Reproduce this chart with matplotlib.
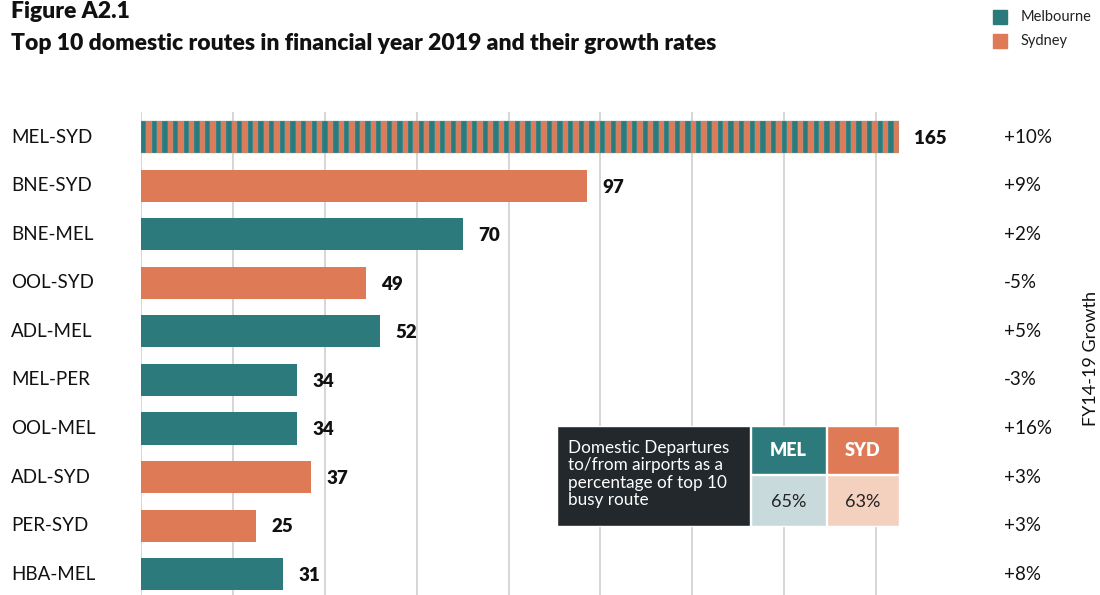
import numpy as np
import matplotlib.pyplot as plt
from matplotlib.patches import Rectangle

plt.rcParams['font.family'] = ['Lato', 'DejaVu Sans']

# Route data
routes = ["MEL-SYD", "BNE-SYD", "BNE-MEL", "OOL-SYD", "ADL-MEL",
          "MEL-PER", "OOL-MEL", "ADL-SYD", "PER-SYD", "HBA-MEL"]
passengers = [165, 97, 70, 49, 52, 34, 34, 37, 25, 31]
hub = ["both", "Sydney", "Melbourne", "Sydney", "Melbourne",
       "Melbourne", "Melbourne", "Sydney", "Sydney", "Melbourne"]
growth = ["+10%", "+9%", "+2%", "-5%", "+5%", "-3%", "+16%", "+3%", "+3%", "+8%"]

share_labels = ["MEL", "SYD"]
share_values = ["65%", "63%"]

TEAL = "#2d7a7d"
ORANGE = "#de7a55"
DARK = "#22282b"
LIGHT_TEAL = "#c9dadc"
LIGHT_ORANGE = "#f4d0bf"
GRID = "#d6d6d6"
INK = "#111111"

W, H = 1100, 595
fig = plt.figure(figsize=(W / 100, H / 100), dpi=100)

def fx(px):
    return px / W

def fy(py):
    return 1 - py / H

ax_left, ax_right, ax_top, ax_bottom = 141, 899, 112, 595
ax = fig.add_axes([fx(ax_left), fy(ax_bottom), fx(ax_right - ax_left), (ax_bottom - ax_top) / H])

y = np.arange(len(routes))
bar_h = 0.66
for i, (val, h) in enumerate(zip(passengers, hub)):
    if h == "both":
        n = 142
        edges = np.linspace(0, val, n + 1)
        widths = np.diff(edges)
        cols = [TEAL if k % 2 == 0 else ORANGE for k in range(n)]
        ax.barh(np.full(n, i), widths, left=edges[:-1], height=bar_h,
                color=cols, edgecolor="#7fa9a8", linewidth=0.25, zorder=3)
    else:
        ax.barh(i, val, height=bar_h, color=TEAL if h == "Melbourne" else ORANGE,
                edgecolor="none", zorder=3)
    ax.annotate(str(val), xy=(val, i), xytext=(11, -1), textcoords="offset points",
                ha="left", va="center", fontsize=13.5, fontweight="heavy",
                color=INK, zorder=4)

ax.set_xlim(0, 165)
ax.set_ylim(9.43, -0.52)
ax.set_xticks(np.arange(0, 161, 20))
ax.xaxis.grid(True, color=GRID, linewidth=1.4, zorder=0)
ax.tick_params(axis="x", length=0, labelbottom=False)
ax.tick_params(axis="y", length=0)
ax.set_yticks(y)
ax.set_yticklabels([])
for s in ax.spines.values():
    s.set_visible(False)
ax.set_facecolor("none")

# Route labels and growth rates
for i, (r, g) in enumerate(zip(routes, growth)):
    ax.annotate(r, xy=(fx(11), i), xycoords=("figure fraction", "data"),
                ha="left", va="center", fontsize=13.5, color=INK)
    ax.annotate(g, xy=(fx(1004), i), xycoords=("figure fraction", "data"),
                ha="left", va="center", fontsize=13.5, color=INK)

fig.text(fx(1091), fy(358), "FY14-19 Growth", rotation=90, ha="center", va="center",
         fontsize=13, color=INK)

# Titles
fig.text(fx(11), fy(12), "Figure A2.1", ha="left", va="center",
         fontsize=16.5, fontweight="heavy", color=INK)
fig.text(fx(11), fy(43), "Top 10 domestic routes in financial year 2019 and their growth rates",
         ha="left", va="center", fontsize=16.5, fontweight="heavy", color=INK)

# Legend
for py, col, lab in [(17, TEAL, "Melbourne"), (41, ORANGE, "Sydney")]:
    fig.patches.append(Rectangle((fx(993), fy(py + 7)), fx(14), 14 / H,
                                 transform=fig.transFigure, color=col))
    fig.text(fx(1021), fy(py), lab, ha="left", va="center", fontsize=10.5, color="#222222")

# Departures share inset
def box(x0, y0, x1, y1, col):
    fig.patches.append(Rectangle((fx(x0), fy(y1)), fx(x1 - x0), (y1 - y0) / H,
                                 transform=fig.transFigure, facecolor=col,
                                 edgecolor="white", linewidth=1.0, zorder=5))

box(557, 426, 750, 526, DARK)
fig.text(fx(568), fy(474), "Domestic Departures\nto/from airports as a\npercentage of top 10\nbusy route",
         ha="left", va="center", fontsize=12.3, color="white", linespacing=1.12, zorder=6)
heads = [(751, 826, TEAL, LIGHT_TEAL), (827, 899, ORANGE, LIGHT_ORANGE)]
for (x0, x1, c_head, c_val), lab, val in zip(heads, share_labels, share_values):
    box(x0, 426, x1, 474, c_head)
    box(x0, 475, x1, 526, c_val)
    fig.text(fx((x0 + x1) / 2), fy(450), lab, ha="center", va="center",
             fontsize=13, fontweight="heavy", color="white", zorder=6)
    fig.text(fx((x0 + x1) / 2), fy(502), val, ha="center", va="center",
             fontsize=13, color="#222222", zorder=6)

fig.savefig("out.png", dpi=100)
